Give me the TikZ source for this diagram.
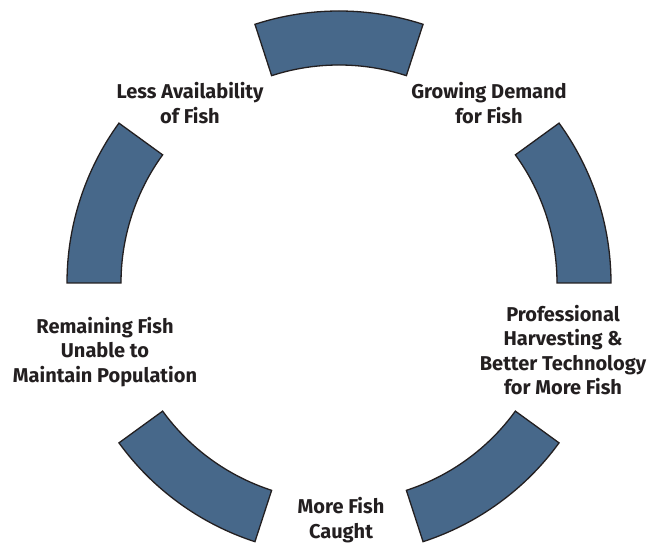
\documentclass[tikz,border=0pt]{standalone}
\usepackage{fontspec}
\setmainfont{Fira Sans}
\definecolor{segfill}{RGB}{71,104,138}
\definecolor{segline}{RGB}{35,31,32}
\definecolor{labtext}{RGB}{35,31,32}
\begin{document}
\begin{tikzpicture}[x=1pt,y=1pt,
  seg/.style={fill=segfill,draw=segline,line width=1.3pt,line join=miter},
  lab/.style={align=center,inner sep=0pt,text=labtext,font=\bfseries\fontsize{20}{24.5}\selectfont}]
\useasboundingbox (0,0) rectangle (649,543);
\coordinate (c) at (339,260);
\foreach \a in {0,72,144,216,288}{
  \draw[seg,shift={(c)}] (\a:218) -- (\a:272) arc[start angle=\a,end angle=\a+36,radius=272]
    -- (\a+36:218) arc[start angle=\a+36,end angle=\a,radius=218] -- cycle;
}
\node[lab] (less) at (190,440) {Less Availability\\of Fish};
\node[lab] (grow) at (489,440) {Growing Demand\\for Fish};
\node[lab] (prof) at (563,193) {Professional\\Harvesting \&\\Better Technology\\for More Fish};
\node[lab] (more) at (341,23) {More Fish\\Caught};
\node[lab] (rem) at (105,191) {Remaining Fish\\Unable to\\Maintain Population};
\end{tikzpicture}
\end{document}
